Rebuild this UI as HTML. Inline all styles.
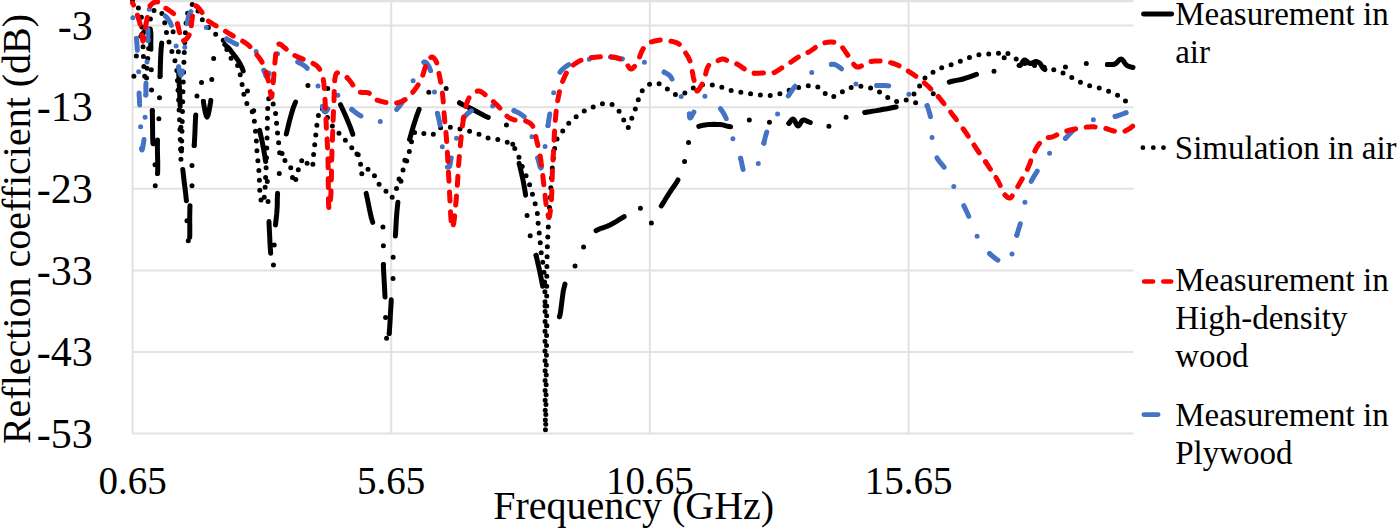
<!DOCTYPE html>
<html><head><meta charset="utf-8"><style>
html,body{margin:0;padding:0;background:#fff;}
body{width:1400px;height:530px;overflow:hidden;}
svg{display:block;}
text{font-family:"Liberation Serif",serif;fill:#000;}
.tick{font-size:39px;}
.ytick{font-size:42px;}
.leg{font-size:33px;}
.title{font-size:40px;}
</style></head><body>
<svg width="1400" height="530" viewBox="0 0 1400 530">
<rect width="1400" height="530" fill="#fff"/>
<g stroke="#e2e2e2" stroke-width="2">
<line x1="132.5" y1="25.6" x2="1133.5" y2="25.6"/>
<line x1="132.5" y1="107.2" x2="1133.5" y2="107.2"/>
<line x1="132.5" y1="188.8" x2="1133.5" y2="188.8"/>
<line x1="132.5" y1="270.4" x2="1133.5" y2="270.4"/>
<line x1="132.5" y1="352.0" x2="1133.5" y2="352.0"/>
<line x1="132.5" y1="433.6" x2="1133.5" y2="433.6"/>
<line x1="132.5" y1="0" x2="132.5" y2="433.6"/>
<line x1="391.2" y1="0" x2="391.2" y2="433.6"/>
<line x1="649.9" y1="0" x2="649.9" y2="433.6"/>
<line x1="908.6" y1="0" x2="908.6" y2="433.6"/>
<line x1="132.5" y1="1" x2="1133.5" y2="1" stroke-width="2.4"/>
</g>
<g fill="none" stroke-width="5.0" stroke-linejoin="round" stroke-linecap="round">
<path d="M132.5 0.0L133.9 1.8L135.3 3.6L136.7 5.3L138.0 7.1L139.0 9.0L139.7 10.7L140.3 12.5L140.8 14.3L141.2 16.1L141.5 18.0L141.8 20.3L141.9 22.6L141.9 25.0L141.9 27.5L142.0 30.0L142.2 32.9L142.4 35.9L142.6 38.9L142.8 42.0L143.0 45.0L143.1 48.0L143.2 51.0L143.3 54.0L143.4 57.0L143.5 60.0L143.6 63.1L143.8 66.3L144.0 69.4L144.2 72.4L144.5 75.0L144.8 76.8L145.1 78.7L145.4 80.4L145.7 81.5L146.0 82.0L146.3 81.1L146.5 79.0L146.7 76.0L146.8 72.9L147.0 70.0L147.2 67.1L147.4 64.1L147.6 61.1L147.8 58.0L148.0 55.0L148.3 52.0L148.6 49.0L148.9 46.0L149.2 43.0L149.5 40.0L149.7 37.0L150.0 33.9L150.2 30.8L150.3 27.9L150.5 25.0L150.5 22.6L150.4 20.2L150.4 17.9L150.5 15.8L151.0 14.0L151.6 12.9L152.3 11.9L153.2 11.1L154.1 10.4L155.0 10.0L156.0 9.8L157.0 9.7L158.1 9.7L159.1 10.0L160.0 10.5L161.1 11.7L161.9 13.4L162.7 15.5L163.3 17.8L164.0 20.0L164.7 22.7L165.3 25.7L165.8 28.8L166.3 31.9L167.0 35.0L167.9 38.4L168.9 41.8L169.9 45.3L171.0 48.7L172.0 52.0L172.9 54.6L173.7 57.1L174.6 59.6L175.3 62.1L176.0 65.0L176.7 69.4L177.1 74.1L177.4 79.2L177.7 84.5L178.0 90.0L178.5 97.5L178.9 105.6L179.3 114.0L179.7 122.2L180.0 130.0L180.2 137.2L180.4 145.2L180.6 152.5L180.8 157.9L181.0 160.0L181.2 157.9L181.4 152.5L181.6 145.2L181.8 137.2L182.0 130.0L182.2 122.3L182.4 114.1L182.6 105.9L182.8 97.7L183.0 90.0L183.2 83.7L183.4 77.7L183.6 71.8L183.8 65.9L184.0 60.0L184.2 54.1L184.5 48.1L184.8 42.1L185.1 36.4L185.5 31.0L185.8 26.8L186.1 22.7L186.5 18.8L187.1 15.2L188.0 12.0L188.9 9.8L189.9 7.7L191.1 5.8L192.3 4.5L193.5 4.0L195.2 5.3L197.0 8.6L198.9 12.9L200.9 17.3L203.0 21.0L205.1 23.7L207.3 26.3L209.5 28.7L211.8 31.0L214.0 33.0L215.8 34.3L217.5 35.3L219.3 36.3L221.0 37.5L222.5 39.0L224.3 42.0L225.7 45.8L227.0 49.9L228.4 53.8L230.0 57.0L231.4 58.6L232.8 59.9L234.3 61.0L235.8 62.3L237.0 64.0L238.4 67.3L239.5 71.2L240.3 75.5L241.1 79.9L242.0 84.0L242.8 87.8L243.4 91.6L244.1 95.4L244.9 98.9L246.0 102.0L247.1 104.0L248.4 105.7L249.7 107.2L250.9 108.9L252.0 111.0L253.1 114.6L254.0 118.7L254.6 123.2L255.1 127.7L255.6 132.0L256.0 136.0L256.3 140.0L256.5 144.0L256.7 148.0L257.0 152.0L257.4 155.9L257.8 159.8L258.2 163.8L258.6 167.8L259.0 172.0L259.3 177.8L259.6 184.2L259.8 190.7L260.3 196.2L261.0 200.0L261.4 200.9L261.8 201.8L262.2 202.5L262.6 202.9L263.0 203.0L263.9 200.4L264.6 194.3L265.2 186.1L265.6 177.5L266.0 170.0L266.3 163.9L266.5 158.0L266.7 152.1L266.8 146.1L267.0 140.0L267.2 132.8L267.3 125.0L267.4 117.3L267.6 110.5L268.0 105.0L268.2 102.8L268.4 100.6L268.7 98.8L269.0 97.5L269.5 97.0L270.4 97.8L271.5 99.9L272.7 102.7L273.9 105.7L274.7 108.3L275.1 110.1L275.4 112.0L275.6 113.7L275.7 115.6L275.9 117.4L276.1 119.4L276.4 121.4L276.6 123.5L276.8 125.6L277.0 127.6L277.2 129.6L277.4 131.7L277.6 133.7L277.8 135.8L278.0 137.8L278.2 139.9L278.5 141.9L278.8 144.0L279.0 146.0L279.3 148.0L279.5 149.7L279.5 151.4L279.7 153.1L279.9 154.6L280.4 156.0L281.1 157.1L281.9 158.0L282.9 158.8L283.9 159.6L284.9 160.4L285.8 161.1L286.8 161.7L287.8 162.2L288.6 162.9L289.4 163.8L290.1 165.3L290.6 167.0L291.0 169.0L291.3 171.0L291.7 172.9L292.1 175.2L292.6 177.9L293.0 180.4L293.5 182.2L294.0 183.0L294.6 182.4L295.3 180.7L296.1 178.5L296.8 176.1L297.4 174.0L297.9 172.2L298.2 170.3L298.6 168.5L299.0 166.7L299.6 165.0L300.4 163.3L301.3 161.4L302.3 159.7L303.3 158.5L304.2 158.0L305.1 158.7L306.0 160.4L306.8 162.6L307.7 164.6L308.7 166.0L309.4 166.5L310.1 166.9L310.8 167.2L311.5 167.3L312.0 167.2L312.6 166.2L312.9 164.5L313.0 162.4L313.0 160.1L313.2 158.0L313.4 156.0L313.7 154.0L313.9 152.0L314.2 150.0L314.4 148.0L314.6 146.0L314.8 143.9L315.1 141.9L315.3 139.8L315.5 137.8L315.7 135.8L315.9 133.7L316.1 131.6L316.4 129.6L316.6 127.6L316.8 125.8L317.0 123.9L317.2 122.1L317.5 120.3L317.8 118.5L318.3 116.1L318.8 113.4L319.4 110.8L320.2 108.9L321.0 108.0L321.9 108.4L322.9 109.6L323.9 111.4L325.0 113.3L326.0 115.0L327.0 116.7L328.0 118.5L328.9 120.4L329.9 122.2L331.0 124.0L332.1 125.7L333.3 127.5L334.5 129.2L335.7 130.7L337.0 132.0L338.0 132.7L339.0 133.3L340.1 133.7L341.1 134.3L342.0 135.0L343.1 136.3L344.1 138.0L345.0 139.7L346.0 141.5L347.0 143.0L348.0 144.1L348.9 145.2L350.0 146.1L351.0 147.1L352.0 148.0L353.0 148.8L354.0 149.4L355.1 150.1L356.1 150.9L357.0 152.0L358.2 154.7L359.1 158.3L359.9 162.1L361.0 165.6L362.5 168.0L364.0 168.8L365.8 169.0L367.6 169.1L369.4 169.3L371.0 170.0L372.7 171.9L374.0 174.6L375.3 177.6L376.6 180.5L378.0 183.0L379.3 184.6L380.8 186.0L382.2 187.3L383.6 188.6L385.0 190.0L386.3 191.8L387.5 193.9L388.7 195.9L389.9 197.4L391.0 198.0L392.1 197.4L393.1 196.1L394.2 194.2L395.1 192.0L396.0 190.0L396.9 187.4L397.7 184.6L398.4 181.6L399.1 178.7L400.0 176.0L400.9 173.9L401.9 172.0L403.0 170.1L404.0 168.2L405.0 166.0L406.1 162.9L407.1 159.6L408.1 156.0L409.0 152.5L410.0 149.0L410.9 145.2L411.6 141.1L412.5 137.2L413.5 133.9L415.0 132.0L416.2 131.6L417.5 131.7L419.0 132.1L420.5 132.6L422.0 133.0L423.9 133.5L426.0 134.2L428.1 134.8L430.1 135.1L432.0 135.0L433.7 134.1L435.3 132.6L436.8 130.8L438.3 129.2L440.0 128.0L441.7 127.4L443.4 127.1L445.2 126.9L447.0 126.9L449.0 127.0L451.8 127.3L454.8 127.8L457.9 128.5L461.1 129.3L464.0 130.0L466.5 130.6L468.9 131.1L471.3 131.7L473.6 132.3L476.0 133.0L478.4 133.9L480.8 135.0L483.2 136.1L485.6 137.2L488.0 138.0L490.4 138.5L492.8 138.9L495.2 139.1L497.6 139.5L500.0 140.0L502.5 140.7L505.1 141.5L507.6 142.4L510.0 143.6L512.0 145.0L513.6 146.7L514.9 148.6L516.0 150.7L517.0 152.9L518.0 155.0L518.9 157.1L519.7 159.2L520.4 161.4L521.1 163.6L522.0 166.0L523.3 169.2L524.7 172.5L526.2 176.0L527.7 179.5L529.0 183.0L530.1 186.4L531.2 190.0L532.2 193.4L533.1 196.8L534.0 200.0L534.7 202.3L535.4 204.6L536.0 206.7L536.5 208.8L537.0 211.0L537.3 213.1L537.5 215.3L537.7 217.4L537.8 219.6L538.0 222.0L538.4 225.4L538.8 229.1L539.2 232.9L539.6 236.6L540.0 240.0L540.2 242.3L540.4 244.4L540.6 246.5L540.7 248.6L541.0 251.0L541.5 254.7L542.2 258.8L542.9 263.1L543.5 267.5L544.0 272.0L544.4 277.2L544.6 282.5L544.8 288.0L544.9 293.8L545.0 300.0L545.1 308.9L545.1 318.4L545.0 328.4L545.0 339.0L545.0 350.0L545.1 367.7L545.1 389.2L545.2 410.0L545.4 425.8L545.5 432.0L545.7 426.2L545.9 411.2L546.1 390.9L546.3 369.3L546.5 350.0L546.6 331.4L546.7 311.8L546.7 292.4L546.8 274.7L547.0 260.0L547.2 253.6L547.3 248.2L547.5 243.2L547.7 238.3L548.0 233.0L548.3 226.7L548.7 220.3L549.1 213.7L549.5 207.0L550.0 200.0L550.6 191.3L551.2 181.9L551.9 172.4L552.7 163.6L553.6 156.0L554.2 151.9L554.7 148.2L555.3 144.8L556.0 141.7L557.0 139.0L557.9 137.3L558.8 135.9L559.9 134.6L561.0 133.3L562.0 132.0L563.0 130.6L563.9 129.2L564.9 127.7L565.9 126.3L567.0 125.0L568.3 123.6L569.6 122.3L571.0 121.0L572.5 119.8L574.0 118.5L575.6 117.1L577.3 115.8L579.0 114.4L580.7 113.1L582.5 112.0L584.2 111.1L585.8 110.2L587.5 109.5L589.2 108.8L591.0 108.0L592.9 107.1L594.9 106.2L596.9 105.3L599.0 104.5L601.0 104.0L603.0 103.7L605.1 103.4L607.2 103.4L609.2 103.5L611.0 104.0L612.6 104.8L614.1 105.9L615.5 107.2L616.8 108.6L618.0 110.0L619.2 111.5L620.2 113.2L621.1 114.9L622.1 116.7L623.0 118.5L624.0 120.7L624.9 123.2L625.8 125.5L626.7 127.3L627.6 128.0L628.5 127.3L629.3 125.5L630.1 123.2L630.9 120.7L631.7 118.5L632.4 116.8L633.0 115.2L633.6 113.6L634.3 111.9L635.0 110.0L636.2 106.5L637.4 102.4L638.8 98.1L640.3 94.2L642.0 91.0L643.3 89.3L644.6 87.8L646.0 86.5L647.5 85.4L649.0 84.5L650.5 83.8L652.1 83.3L653.7 83.0L655.4 82.9L657.0 83.0L658.8 83.5L660.7 84.5L662.6 85.6L664.3 86.8L666.0 88.0L667.3 89.0L668.4 90.1L669.6 91.2L670.7 92.2L672.0 93.0L673.5 93.7L675.0 94.3L676.7 94.8L678.3 95.0L680.0 95.0L682.0 94.5L684.0 93.6L686.1 92.4L688.1 91.1L690.0 90.0L691.5 89.1L692.8 88.3L694.1 87.4L695.5 86.6L697.0 86.0L698.8 85.5L700.8 85.0L702.9 84.7L704.9 84.6L707.0 84.5L709.2 84.6L711.4 84.8L713.6 85.1L715.8 85.5L718.0 86.0L720.2 86.7L722.3 87.5L724.4 88.4L726.7 89.2L729.0 90.0L732.0 90.7L735.1 91.4L738.4 92.0L741.7 92.5L745.0 93.0L748.4 93.5L751.9 94.0L755.3 94.4L758.7 94.8L762.0 95.0L764.7 95.2L767.4 95.3L769.9 95.4L772.5 95.3L775.0 95.0L777.5 94.4L779.9 93.7L782.3 92.7L784.7 91.8L787.0 91.0L789.1 90.3L791.1 89.7L793.1 89.1L795.0 88.5L797.0 88.0L798.8 87.5L800.6 87.0L802.4 86.6L804.2 86.3L806.0 86.0L808.0 85.8L810.1 85.6L812.2 85.5L814.2 85.6L816.0 86.0L817.4 86.7L818.7 87.6L819.8 88.6L821.0 89.7L822.3 90.8L823.8 92.2L825.4 93.7L827.0 95.2L828.6 96.5L830.3 97.1L832.0 97.1L833.7 96.6L835.5 95.8L837.2 94.9L838.9 94.0L840.6 93.1L842.2 92.0L843.8 90.9L845.5 89.9L847.2 89.0L849.1 88.2L851.0 87.5L853.0 86.9L855.0 86.5L857.0 86.2L859.0 86.1L860.9 86.2L862.9 86.4L864.9 86.6L866.8 87.0L868.7 87.4L870.6 87.9L872.5 88.5L874.4 89.2L876.2 90.0L877.9 90.9L879.6 92.0L881.3 93.1L882.9 94.2L884.6 95.3L886.3 96.4L888.0 97.6L889.7 98.8L891.4 99.8L893.2 100.6L895.0 101.1L897.0 101.5L898.9 101.6L900.8 101.6L902.7 101.3L904.5 100.7L906.3 99.9L908.0 98.9L909.7 97.7L911.3 96.5L912.8 95.2L914.2 93.8L915.6 92.4L916.8 90.8L918.0 89.2L919.0 87.5L919.8 85.6L920.6 83.7L921.5 81.8L922.6 80.2L923.9 78.8L925.4 77.6L927.0 76.4L928.6 75.3L930.2 74.2L931.8 73.1L933.4 71.9L935.1 70.8L936.8 69.8L938.5 68.9L940.3 68.1L942.2 67.5L944.1 66.9L946.0 66.3L947.9 65.7L949.7 65.1L951.5 64.5L953.4 63.9L955.2 63.3L957.0 62.6L958.9 61.8L960.8 61.0L962.6 60.2L964.5 59.4L966.4 58.6L968.2 57.9L970.1 57.2L971.9 56.5L973.8 55.9L975.7 55.4L977.7 55.0L979.7 54.6L981.7 54.4L983.7 54.2L985.7 54.0L987.6 53.9L989.6 54.0L991.5 54.1L993.5 54.1L995.4 54.0L997.3 53.7L999.3 53.1L1001.2 52.6L1003.1 52.2L1005.0 52.3L1007.0 53.0L1009.0 54.1L1011.0 55.5L1013.0 57.0L1015.0 58.3L1017.1 59.5L1019.3 60.8L1021.5 62.0L1023.7 63.1L1026.0 64.0L1028.3 64.6L1030.7 65.0L1033.1 65.3L1035.5 65.6L1038.0 66.0L1040.7 66.5L1043.4 67.1L1046.2 67.7L1048.9 68.3L1051.5 69.0L1053.7 69.6L1055.8 70.3L1057.9 71.0L1060.0 71.8L1062.0 72.6L1064.0 73.5L1066.0 74.5L1067.9 75.5L1069.9 76.6L1072.0 77.7L1074.6 79.1L1077.2 80.5L1080.0 82.0L1082.7 83.3L1085.5 84.5L1088.2 85.4L1091.0 86.1L1093.7 86.7L1096.4 87.3L1099.0 88.0L1101.1 88.6L1103.1 89.2L1105.1 89.9L1107.0 90.5L1109.0 91.3L1111.2 92.2L1113.3 93.2L1115.5 94.2L1117.6 95.3L1119.5 96.4L1120.9 97.4L1122.3 98.4L1123.5 99.4L1124.8 100.5L1126.0 101.5L1127.2 102.5L1128.4 103.5L1129.6 104.6L1130.8 105.6L1132.0 106.6" stroke="#000000" stroke-dasharray="0 9.86"/>
<g stroke="#000000"><path d="M132.5 88.0L132.7 86.8L132.8 85.6L133.0 84.4L133.1 83.0L133.3 81.5L133.7 78.2L134.1 74.3L134.5 70.1L135.0 65.9L135.5 62.0L135.9 58.8L136.4 55.7L136.9 52.7L137.4 49.8L138.0 47.0L138.5 44.6L139.1 42.2L139.6 39.9L140.3 37.8L141.0 36.0L141.5 35.0L142.1 34.2L142.7 33.4L143.4 32.7L144.0 32.0L144.6 31.3L145.2 30.5L145.8 29.8L146.4 29.3L147.0 29.0L147.6 28.9L148.3 29.0L148.9 29.2L149.5 29.5L150.0 30.0L150.7 31.8L150.9 34.6L150.9 37.9L150.8 41.5L150.8 45.0L150.9 49.6L151.1 54.7L151.1 59.9L151.2 65.1L151.3 70.0L151.3 74.0L151.4 77.8L151.4 81.5L151.4 85.2L151.5 89.0L151.6 92.7L151.8 96.3L152.0 99.9L152.1 103.8L152.3 108.0L152.3 110.5" stroke-dasharray="32.3 20.4 0 20.4 0 20.4" stroke-dashoffset="40.90"/><path d="M152.3 110.5L152.4 114.8L152.5 122.5L152.6 130.5L152.7 138.2L153.0 145.0L153.3 149.2L153.8 152.9L154.2 156.5L154.7 160.1L155.0 164.0L155.2 169.8L155.2 176.6L155.2 183.1L155.3 188.0L155.5 190.0L155.8 189.1L156.3 186.8L156.7 183.4L157.2 179.7L157.5 176.0L157.6 173.5" stroke-dasharray="33.27 21.01 0.00 21.01 0.00 21.01"/><path d="M157.6 173.5L157.7 169.6L157.7 162.0L157.5 154.0L157.4 146.1L157.5 139.0L157.7 134.2L158.1 129.7L158.4 125.4L158.7 121.2L159.0 117.0L159.2 113.1L159.3 109.3L159.3 105.5L159.4 101.8L159.5 98.0L159.6 94.3L159.7 90.7L159.8 87.0L159.9 83.2L160.0 79.0L160.1 76.5" stroke-dasharray="33.53 21.18 0.00 21.18 0.00 21.18"/><path d="M160.1 76.5L160.2 72.2L160.4 64.3L160.7 56.3L161.1 48.9L161.7 43.0L162.0 40.5L162.3 38.2L162.6 36.2L163.2 34.5L164.0 33.0L165.0 32.0L166.2 31.1L167.5 30.4L168.8 30.0L170.0 30.0L171.3 30.4L172.6 31.3L173.8 32.5L175.0 34.1L176.0 36.0L177.6 42.1L178.3 50.4L178.6 60.2L178.7 70.3L179.0 80.0L179.5 89.9L179.9 100.1L180.3 110.4L180.6 120.4L181.0 130.0L181.3 137.8L181.5 145.3L181.8 152.6L182.1 159.8L182.6 167.0L182.8 169.5" stroke-dasharray="33.42 21.11 0.00 21.11 0.00 21.11"/><path d="M182.8 169.5L183.3 174.0L184.1 181.1L185.0 188.1L185.8 194.7L186.4 201.0L186.6 205.5L186.8 209.8L186.8 213.9L186.9 217.9L187.0 222.0L187.2 226.0L187.5 230.1L187.8 234.0L188.0 237.7L188.3 241.0L188.4 243.1L188.6 245.2L188.7 247.1L188.9 248.5L189.0 249.0L189.1 248.4L189.3 247.0L189.4 244.9L189.6 242.5L189.7 240.0L189.7 237.5" stroke-dasharray="31.56 19.93 0.00 19.93 0.00 19.93"/><path d="M189.7 237.5L189.8 234.3L189.8 227.1L189.7 219.3L189.8 211.7L190.0 205.0L190.3 200.8L190.8 197.0L191.3 193.4L191.7 189.8L192.0 186.0L192.1 181.8L192.0 177.6L191.9 173.3L191.9 169.1L192.0 165.0L192.3 161.6L192.7 158.4L193.1 155.2L193.6 151.8L194.0 148.0L194.2 145.5" stroke-dasharray="31.86 20.13 0.00 20.13 0.00 20.13"/><path d="M194.2 145.5L194.5 141.2L194.9 133.3L195.2 125.0L195.6 117.0L196.0 110.0L196.3 105.7L196.5 101.7L196.8 97.9L197.1 94.4L197.5 91.0L197.9 88.3L198.4 85.4L198.9 82.7L199.4 80.8L200.0 80.0L200.4 80.2L200.8 80.9L201.3 81.8L201.7 82.9L202.0 84.0L202.4 86.3L202.5 89.2L202.6 92.4L202.7 95.8L203.0 99.0L203.4 101.5" stroke-dasharray="30.45 19.23 0.00 19.23 0.00 19.23"/><path d="M203.4 101.5L203.6 103.1L204.4 107.8L205.3 112.3L206.2 115.7L207.0 117.0L207.9 115.7L208.8 112.4L209.6 108.0L210.4 103.2L211.0 99.0L211.3 95.3L211.5 91.7L211.5 88.0L211.6 84.3L211.7 80.6L211.9 76.8L212.0 73.0L212.2 69.2L212.5 65.5L213.0 62.0L213.6 58.9L214.2 55.8L214.9 52.8L215.9 50.2L217.0 48.0L218.0 46.7L219.0 45.5L220.2 44.5L221.4 43.9L222.5 43.6L223.6 43.8L224.7 44.5L224.8 44.5" stroke-dasharray="33.20 20.97 0.00 20.97 0.00 20.97"/><path d="M224.8 44.5L225.8 45.4L226.9 46.5L228.0 47.5L229.3 48.8L230.5 50.3L231.7 51.9L232.9 53.5L234.0 55.0L235.1 56.4L236.1 57.7L237.1 59.1L238.1 60.5L239.0 62.0L240.0 63.7L240.9 65.5L241.8 67.3L242.6 69.2L243.3 71.3L244.0 74.0L244.5 76.8L244.9 79.8L245.4 82.9L246.0 86.0L247.0 89.6L248.2 93.4L249.4 97.2L250.7 101.0L252.0 105.0L253.4 109.4L254.8 113.8L256.3 118.3L257.7 123.0L259.0 128.0L259.6 130.4" stroke-dasharray="32.58 20.58 0.00 20.58 0.00 20.58"/><path d="M259.6 130.4L260.6 134.7L262.2 141.8L263.6 149.2L264.9 156.6L266.0 164.0L266.7 171.3L267.2 178.8L267.5 186.2L267.7 193.4L268.0 200.0L268.2 204.7L268.4 208.9L268.6 213.1L268.8 217.4L269.0 222.0L269.3 228.8L269.7 236.3L270.0 243.9L270.5 251.0L271.0 257.0L271.4 260.2L271.8 263.4L272.2 266.2L272.7 268.2L273.0 269.0L273.3 267.6L273.5 264.1L273.7 259.4L273.8 254.4L274.0 250.0L274.2 246.0L274.4 242.0L274.5 238.0L274.7 234.0L275.0 230.0L275.4 226.0L275.8 221.9L276.3 217.9L276.7 213.9L277.0 210.0L277.2 206.6L277.3 203.4L277.3 200.1L277.4 196.7L277.6 193.0L278.1 187.0L278.6 180.3L279.3 173.3L280.1 166.4L281.0 160.0L281.8 155.1L282.6 150.5L283.5 146.0L284.5 141.3L285.7 136.4L286.3 134.0" stroke-dasharray="31.72 20.04 0.00 20.04 0.00 20.04"/><path d="M286.3 134.0L287.4 129.5L289.2 121.9L291.3 114.3L293.5 107.1L296.0 101.0L297.9 97.3L299.8 93.9L301.9 90.9L304.1 88.4L306.4 86.4L308.2 85.4L310.1 84.7L312.1 84.2L314.0 84.0L316.0 84.0L318.0 84.2L320.1 84.8L322.1 85.5L324.1 86.4L326.0 87.4L328.0 88.6L329.9 90.1L331.8 91.7L333.5 93.3L335.0 95.0L336.1 96.4L336.9 97.7L337.7 99.1L338.5 100.6L339.4 102.5L340.5 104.7" stroke-dasharray="33.26 21.01 0.00 21.01 0.00 21.01"/><path d="M340.5 104.7L341.8 107.5L344.7 113.8L347.7 120.8L350.5 127.6L352.6 133.6L353.6 137.1L354.3 140.4L354.8 143.5L355.3 146.7L356.0 150.0L356.9 153.9L357.9 157.8L359.0 161.9L360.0 165.9L361.0 170.0L361.9 174.1L362.8 178.1L363.7 182.2L364.6 186.4L365.7 191.0L366.2 193.4" stroke-dasharray="32.03 20.23 0.00 20.23 0.00 20.23"/><path d="M366.2 193.4L367.3 198.6L369.1 207.6L371.0 216.5L373.0 223.4L375.0 226.5L375.8 226.4L376.6 225.7L377.4 224.7L378.2 223.7L379.0 223.0L379.6 222.6L380.2 222.2L380.7 221.8L381.2 221.6L381.7 221.7L382.6 223.6L383.0 227.5L383.2 232.5L383.2 237.8L383.3 242.5L383.4 246.3L383.4 250.1L383.3 253.8L383.3 257.7L383.3 262.0L383.4 264.5" stroke-dasharray="29.72 18.77 0.00 18.77 0.00 18.77"/><path d="M383.4 264.5L383.5 268.5L383.9 275.8L384.3 283.3L384.7 290.5L385.0 297.0L385.1 301.2L385.2 305.0L385.3 308.6L385.4 312.2L385.5 316.0L385.7 320.3L385.8 324.7L386.0 329.2L386.3 333.3L386.5 337.0L386.7 339.3L386.9 341.7L387.1 343.9L387.3 345.4L387.5 346.0L387.8 345.4L388.1 343.8L388.4 341.4L388.7 338.7L389.0 336.0L389.2 333.5" stroke-dasharray="32.58 20.57 0.00 20.57 0.00 20.57"/><path d="M389.2 333.5L389.5 329.9L390.0 322.3L390.4 314.1L390.9 306.1L391.3 299.0L391.7 294.6L392.1 290.6L392.4 286.7L392.8 282.9L393.0 279.0L393.1 275.0L393.0 270.9L392.9 266.9L392.9 262.9L393.0 259.0L393.3 255.4L393.7 252.0L394.1 248.6L394.6 245.0L395.0 241.0L395.5 234.5L395.9 227.4L396.3 219.9L396.9 212.0L397.7 204.0L399.0 194.0L400.6 183.5L402.4 172.7L404.4 162.1L406.6 152.0L408.7 143.2L409.7 139.4" stroke-dasharray="33.78 21.34 0.00 21.34 0.00 21.34"/><path d="M409.7 139.4L411.0 134.3L413.5 125.8L416.0 117.9L418.5 111.0L420.1 106.9L421.5 103.2L423.0 99.8L424.8 96.7L427.0 94.0L429.6 91.6L432.7 89.3L436.0 87.4L439.1 86.2L442.0 86.0L444.3 86.8L446.4 88.6L448.4 90.7L450.3 93.0L452.0 95.0L453.2 96.4L454.2 97.7L455.1 99.0L456.2 100.3L457.5 101.5L459.6 102.9" stroke-dasharray="31.46 19.87 0.00 19.87 0.00 19.87"/><path d="M459.6 102.9L461.9 104.2L464.5 105.4L467.3 106.7L470.0 108.0L473.4 109.8L477.0 111.8L480.8 113.8L484.5 115.7L488.2 117.4L491.7 118.5L495.4 119.3L499.0 120.1L502.3 121.2L505.0 123.0L507.1 125.9L508.6 129.6L509.8 133.7L510.8 138.0L512.0 142.0L513.3 145.7L514.7 149.3L516.0 153.0L517.3 156.8L518.5 161.0L519.1 163.4" stroke-dasharray="32.13 20.29 0.00 20.29 0.00 20.29"/><path d="M519.1 163.4L520.1 167.3L521.7 174.3L523.3 181.5L524.6 188.6L525.6 195.0L526.1 199.3L526.3 203.4L526.5 207.2L526.7 211.1L527.0 215.0L527.5 219.0L528.0 223.1L528.5 227.1L529.2 231.1L530.0 235.0L530.9 238.6L532.0 241.9L533.2 245.3L534.3 248.9L535.5 253.0L536.1 255.4" stroke-dasharray="32.43 20.48 0.00 20.48 0.00 20.48"/><path d="M536.1 255.4L537.2 260.2L539.1 268.4L540.9 277.0L542.6 285.8L544.0 294.0L544.8 301.9L545.3 310.5L545.7 318.6L546.5 324.9L548.0 328.0L548.9 328.2L549.9 327.9L551.0 327.4L552.0 326.7L552.8 326.0L553.4 325.3L553.8 324.5L554.1 323.6L554.5 322.8L555.0 322.0L555.7 321.4L556.4 321.0L557.2 320.5L558.0 319.9L558.7 319.0L559.5 316.6" stroke-dasharray="31.51 19.90 0.00 19.90 0.00 19.90"/><path d="M559.5 316.6L560.2 314.3L561.2 307.2L562.2 299.0L563.3 290.8L565.0 284.0L566.7 279.9L568.8 276.3L570.9 272.8L573.1 269.5L575.0 266.0L576.6 262.5L578.1 259.0L579.5 255.5L581.0 252.0L582.7 248.6L584.6 245.0L586.7 241.4L588.9 237.9L591.3 234.7L594.0 232.0L596.1 230.6" stroke-dasharray="32.99 20.84 0.00 20.84 0.00 20.84"/><path d="M596.1 230.6L596.9 230.1L600.1 228.7L603.4 227.6L606.8 226.4L610.0 225.0L613.1 223.3L616.1 221.6L619.1 219.7L622.1 217.8L625.0 216.0L627.9 213.9L630.7 211.3L633.6 209.0L636.3 207.3L638.8 207.0L641.3 209.1L643.6 213.3L645.8 218.1L647.9 222.1L650.0 223.7L652.0 222.6L654.1 219.7L656.0 215.8L658.0 211.7L660.0 208.0L661.3 205.9" stroke-dasharray="31.54 19.92 0.00 19.92 0.00 19.92"/><path d="M661.3 205.9L662.0 204.8L664.0 201.6L666.0 198.3L668.0 195.1L670.0 192.0L671.9 189.2L673.8 186.5L675.7 183.8L677.4 181.0L679.0 178.0L680.5 174.6L681.8 171.1L682.9 167.4L684.0 163.7L685.0 160.0L685.9 156.2L686.5 152.3L687.1 148.3L687.9 144.5L689.0 141.0L690.3 137.9L691.7 134.8L693.4 131.9L695.1 129.4L697.0 127.5L698.4 126.6L698.8 126.4" stroke-dasharray="30.90 19.52 0.00 19.52 0.00 19.52"/><path d="M698.8 126.4L699.9 126.0L701.5 125.6L703.2 125.3L705.0 125.0L707.7 124.6L710.7 124.4L713.8 124.3L717.0 124.4L720.0 124.5L722.7 124.9L725.3 125.6L727.8 126.3L730.4 126.8L733.0 126.8L735.9 125.9L738.8 124.4L741.8 122.6L744.8 121.0L748.0 120.0L751.9 119.7L756.1 120.0L760.3 120.7L764.4 121.4L768.0 122.0L770.2 122.4L772.3 122.8L774.2 123.2L776.1 123.7L778.0 124.0L779.9 124.4L781.8 124.8L783.6 125.2L785.4 125.3L787.0 125.0L788.4 124.0L788.9 123.4" stroke-dasharray="32.21 20.34 0.00 20.34 0.00 20.34"/><path d="M788.9 123.4L789.6 122.5L790.8 120.8L791.9 119.5L793.0 119.0L794.1 119.8L795.1 121.5L796.0 123.6L797.0 125.3L798.0 126.0L799.0 125.5L799.9 124.1L800.9 122.4L801.9 120.8L803.0 120.0L804.1 119.9L805.1 120.3L806.3 120.8L807.6 121.4L809.0 122.0L811.8 123.1L815.2 124.5L818.8 125.8L822.5 126.8L826.0 127.0L829.6 126.1L833.2 124.3L836.7 122.0L840.3 119.8L844.0 118.0L847.6 116.7L851.3 115.6L855.1 114.7L858.8 113.8L862.5 113.0L865.0 112.5" stroke-dasharray="30.78 19.44 0.00 19.44 0.00 19.44"/><path d="M865.0 112.5L866.0 112.3L869.5 111.7L873.0 111.1L876.5 110.6L880.0 110.0L883.6 109.3L887.2 108.7L890.8 108.0L894.4 107.3L898.0 106.6L901.5 106.0L904.9 105.4L908.3 104.7L911.7 104.0L915.0 103.0L918.1 101.9L921.1 100.6L924.1 99.3L927.0 97.7L930.0 96.0L933.4 93.6L936.7 90.8L940.1 87.8L943.5 85.1L947.0 83.0L949.3 82.1" stroke-dasharray="31.61 19.96 0.00 19.96 0.00 19.96"/><path d="M949.3 82.1L950.1 81.8L953.3 81.0L956.5 80.4L959.8 79.8L963.0 79.0L966.4 77.9L969.7 76.8L973.1 75.6L976.5 74.4L980.0 73.4L983.7 72.7L987.7 72.2L991.5 71.7L995.1 70.9L998.0 69.4L999.8 67.1L1001.2 64.1L1002.2 60.9L1003.4 58.3L1005.0 57.0L1007.2 57.3L1009.8 58.9L1012.5 61.1L1015.0 63.2L1017.0 64.5L1017.7 64.9L1018.3 65.2L1018.9 65.4L1019.3 65.5" stroke-dasharray="28.29 17.87 0.00 17.87 0.00 17.87"/><path d="M1019.3 65.5L1019.4 65.6L1020.0 65.5L1020.9 64.8L1021.7 63.5L1022.6 61.9L1023.5 60.6L1024.5 60.0L1025.5 60.2L1026.6 61.0L1027.7 62.1L1028.8 63.0L1030.0 63.5L1031.2 63.4L1032.4 62.9L1033.7 62.2L1034.9 61.7L1036.0 61.5L1036.9 61.7L1037.7 62.0L1038.5 62.4L1039.3 62.9L1040.0 63.5L1040.7 64.3L1041.2 65.2L1041.8 66.2L1042.3 67.2L1043.0 68.0L1043.7 68.7L1044.5 69.3L1045.4 69.8L1046.2 70.2L1047.0 70.5L1047.6 70.6L1048.1 70.5L1048.6 70.3L1049.2 70.2L1050.0 70.0L1052.6 69.5L1055.9 68.8L1059.7 68.0L1063.7 67.2L1067.5 66.5L1071.3 65.8L1075.3 65.1L1079.2 64.4L1083.1 63.8L1087.0 63.5L1090.7 63.5L1094.5 63.7L1098.2 64.1L1101.7 64.4L1105.0 64.5L1107.2 64.6L1107.5 64.6" stroke-dasharray="33.49 21.15 0.00 21.15 0.00 21.15"/><path d="M1107.5 64.6L1109.4 64.6L1111.4 64.6L1113.3 64.5L1115.0 64.0L1116.4 63.1L1117.6 61.8L1118.8 60.4L1119.9 59.4L1121.0 59.0L1122.2 59.6L1123.4 60.9L1124.5 62.6L1125.7 64.3L1127.0 65.5L1128.1 66.1L1129.3 66.5L1130.6 66.9L1131.8 67.2L1133.0 67.5" stroke-dasharray="32.3 20.4 0 20.4 0 20.4"/></g>
<g stroke="#4472c4"><path d="M132.5 17.0L132.8 17.6L133.1 18.1L133.4 18.6L133.7 19.2L134.0 20.0L134.5 22.0L134.9 24.5L135.3 27.4L135.7 30.3L136.0 33.0L136.3 35.4L136.5 37.8L136.5 38.6" stroke-dasharray="11.6 21.3 0 21.3" stroke-dashoffset="32.10"/><path d="M136.5 38.6L136.7 40.1L136.8 42.5L137.0 45.0L137.2 47.9L137.4 50.9L137.6 53.9L137.8 57.0L138.0 60.0L138.2 63.0L138.4 66.0L138.5 69.0L138.7 72.0L138.8 75.0L138.9 78.2L138.9 81.4L138.9 84.6L138.9 87.8L139.0 91.0L139.1 93.1" stroke-dasharray="11.69 21.47 0.00 21.47"/><path d="M139.1 93.1L139.1 94.2L139.3 97.3L139.5 100.5L139.6 103.7L139.8 107.0L140.0 110.7L140.1 114.6L140.3 118.4L140.4 122.3L140.6 126.0L140.7 129.4L140.9 132.8L141.0 136.1L141.1 139.2L141.3 142.0L141.4 144.0L141.5 146.2L141.7 148.1L141.7 148.5" stroke-dasharray="11.87 21.79 0.00 21.79"/><path d="M141.7 148.5L141.8 149.5L142.0 150.0L142.2 149.7L142.4 149.1L142.6 148.1L142.8 147.0L143.0 146.0L143.3 144.4L143.6 142.7L143.8 140.8L144.1 138.8L144.3 136.6L144.5 133.1L144.7 129.3L144.8 125.2L145.0 121.0L145.1 117.0L145.3 113.0L145.4 108.9L145.6 104.8L145.7 100.8L145.8 97.0L145.8 94.9" stroke-dasharray="12.18 22.37 0.00 22.37"/><path d="M145.8 94.9L145.9 93.9L145.9 90.9L145.9 88.1L145.9 85.1L146.0 82.0L146.1 78.2L146.3 74.2L146.6 70.1L146.8 66.0L147.0 62.0L147.2 58.1L147.4 54.3L147.7 50.5L147.9 46.7L148.0 43.0L148.0 40.5" stroke-dasharray="11.65 21.39 0.00 21.39"/><path d="M148.0 40.5L148.0 39.7L148.0 36.5L148.0 33.3L147.9 30.1L148.0 27.0L148.1 23.8L148.3 20.6L148.5 17.4L148.7 14.5L149.0 12.0L149.1 10.7L149.2 9.5L149.3 8.4L149.6 7.5L150.0 7.0L150.6 6.9L151.4 7.0L152.3 7.3L153.2 7.7L154.0 8.0L154.8 8.3L155.6 8.7L156.4 9.1L157.2 9.5L158.0 10.0L159.0 10.7L160.0 11.4L161.0 12.3L162.0 13.1L163.0 14.0L164.0 14.9L165.1 15.8" stroke-dasharray="11.06 20.31 0.00 20.31"/><path d="M165.1 15.9L166.1 16.8L167.1 17.9L168.0 19.0L168.9 20.4L169.8 21.8L170.6 23.4L171.3 25.1L172.0 27.0L173.0 30.1L173.8 33.6L174.6 37.4L175.4 41.2L176.0 45.0L176.5 48.8L176.8 52.8L177.1 56.8L177.5 60.5L178.0 64.0L178.5 66.8L178.6 66.9" stroke-dasharray="11.51 21.13 0.00 21.13"/><path d="M178.6 66.9L179.1 69.7L179.8 72.3L180.4 74.3L181.0 75.0L181.4 74.6L181.9 73.4L182.3 71.8L182.6 69.9L183.0 68.0L183.5 64.2L183.9 59.7L184.3 54.7L184.6 49.7L185.0 45.0L185.4 41.0L185.8 37.0L186.1 33.1L186.6 29.4L187.0 26.0L187.3 23.6" stroke-dasharray="12.97 23.81 0.00 23.81"/><path d="M187.3 23.6L187.3 23.5L187.6 21.1L188.0 18.8L188.4 16.8L189.0 15.0L189.5 13.9L190.1 12.9L190.7 12.0L191.3 11.3L192.0 11.0L192.6 11.1L193.2 11.3L193.8 11.8L194.4 12.4L195.0 13.0L195.9 14.1L196.9 15.4L197.9 16.9L198.9 18.5L200.0 20.0L201.4 21.8L202.8 23.6L204.4 25.5L206.1 27.3L208.0 29.0L210.6 30.8L213.6 32.4L216.7 33.9L219.9 35.4L223.0 37.0L226.0 38.6L226.6 39.0" stroke-dasharray="12.71 23.35 0.00 23.35"/><path d="M226.6 39.0L228.9 40.3L231.8 41.9L234.9 43.5L238.0 45.0L241.8 46.3L246.0 47.4L250.2 48.5L254.0 49.9L257.0 52.0L258.9 54.7L260.2 58.0L261.2 61.5L262.0 65.0L263.0 68.0L263.8 70.3L263.9 70.3" stroke-dasharray="11.36 20.85 0.00 20.85"/><path d="M263.9 70.3L264.7 72.7L265.5 74.8L266.2 76.4L267.0 77.0L267.6 76.5L268.2 75.3L268.8 73.7L269.4 71.8L270.0 70.0L270.9 66.9L271.7 63.1L272.7 59.2L274.0 56.0L276.0 54.0L279.2 53.7L283.3 54.8L287.8 56.8L292.2 59.0L296.0 61.0L297.9 61.9" stroke-dasharray="12.05 22.13 0.00 22.13"/><path d="M297.9 61.9L298.5 62.2L300.8 63.5L303.0 64.8L305.0 66.2L307.0 68.0L309.3 70.5L311.5 73.3L313.5 76.3L315.4 79.6L317.0 83.0L318.4 87.2L319.5 92.0L320.3 96.8L321.1 101.3L322.0 105.0L322.4 106.4" stroke-dasharray="11.40 20.92 0.00 20.92"/><path d="M322.4 106.4L322.6 106.9L323.1 108.7L323.7 110.4L324.3 111.5L325.0 112.0L325.9 111.6L326.9 110.4L328.0 108.7L329.0 106.8L330.0 105.0L331.0 102.7L331.8 99.9L332.6 97.2L333.7 95.0L335.0 94.0L337.4 94.8L340.4 97.5L343.7 101.2L347.0 105.0L350.0 108.0L351.8 109.5" stroke-dasharray="10.82 19.87 0.00 19.87"/><path d="M351.8 109.5L352.2 109.8L354.3 111.5L356.4 113.1L358.6 114.6L361.0 116.0L364.3 117.7L367.9 119.5L371.7 121.0L375.5 121.9L379.0 122.0L382.5 120.9L385.9 118.9L389.2 116.3L392.3 113.6L395.0 111.0L396.6 109.4" stroke-dasharray="11.23 20.61 0.00 20.61"/><path d="M396.6 109.4L396.9 109.1L398.6 107.3L400.1 105.3L401.5 103.3L403.0 101.0L404.9 97.8L406.7 94.3L408.4 90.5L410.2 86.7L412.0 83.0L414.0 78.9L416.1 74.5L418.2 70.2L420.2 66.5L422.0 64.0L422.6 63.3L423.2 62.7L423.8 62.3L423.9 62.2" stroke-dasharray="11.74 21.56 0.00 21.56"/><path d="M423.9 62.2L424.4 62.0L425.0 62.0L426.0 62.5L427.1 63.7L428.1 65.3L429.1 67.1L430.0 69.0L431.1 72.3L432.0 76.1L432.7 80.4L433.3 84.8L434.0 89.0L434.7 93.4L435.2 98.0L435.8 102.5L436.4 106.9L437.0 111.0L437.5 113.5" stroke-dasharray="11.78 21.63 0.00 21.63"/><path d="M437.5 113.5L437.6 114.0L438.2 116.7L438.9 119.4L439.5 122.1L440.0 125.0L440.5 128.6L440.9 132.3L441.2 136.2L441.5 140.1L442.0 144.0L442.5 148.7L442.9 154.0L443.5 159.1L444.3 163.4L445.5 166.0L446.2 166.6L446.9 167.0L447.4 167.1" stroke-dasharray="11.89 21.84 0.00 21.84"/><path d="M447.4 167.1L447.7 167.2L448.4 167.2L449.0 167.0L449.6 166.2L450.0 164.8L450.3 163.0L450.6 161.0L451.0 159.0L451.8 155.7L452.8 152.0L453.8 148.0L454.9 143.9L456.0 140.0L457.1 136.1L458.1 132.0L459.2 128.1L460.4 124.3L462.0 121.0L463.2 119.1" stroke-dasharray="11.10 20.39 0.00 20.39"/><path d="M463.2 119.1L463.5 118.6L465.0 116.4L466.7 114.4L468.7 112.6L471.0 111.0L474.7 109.3L479.0 107.9L483.8 106.9L488.5 106.2L493.0 106.0L497.0 106.2L501.0 106.9L504.9 107.8L508.6 108.9L512.0 110.0L514.0 110.7" stroke-dasharray="11.92 21.89 0.00 21.89"/><path d="M514.0 110.7L514.3 110.9L516.4 111.8L518.4 112.7L520.2 113.8L522.0 115.0L523.6 116.2L525.2 117.4L526.6 118.8L527.9 120.3L529.0 122.0L530.0 124.5L530.6 127.4L531.0 130.6L531.4 133.8L532.0 137.0L532.9 140.6L533.9 144.2L534.9 147.9L536.0 151.6L537.0 155.0L537.8 157.9" stroke-dasharray="12.02 22.06 0.00 22.06"/><path d="M537.8 157.9L537.8 158.2L538.7 161.6L539.5 164.8L540.2 167.1L541.0 168.0L541.9 166.5L542.7 162.7L543.5 157.5L544.3 152.0L545.0 147.0L545.7 142.2L546.4 137.2L547.1 132.2L547.7 127.2L548.0 125.6" stroke-dasharray="11.52 21.15 0.00 21.15"/><path d="M548.0 125.6L548.5 122.0L549.4 116.2L550.4 110.2L551.4 104.2L552.5 98.4L553.6 93.0L554.4 88.8L555.2 84.7L556.0 80.8L557.1 77.2L558.7 74.0L560.0 72.2" stroke-dasharray="11.79 21.65 0.00 21.65"/><path d="M560.0 72.2L560.5 71.5L562.5 69.3L564.8 67.3L567.3 65.6L570.0 64.0L573.7 62.5L577.9 61.3L582.4 60.4L586.8 59.7L591.0 59.0L594.5 58.4L598.0 57.8L601.4 57.4L604.7 57.1L608.0 57.0L610.5 57.1" stroke-dasharray="11.64 21.37 0.00 21.37"/><path d="M610.5 57.1L611.0 57.2L613.9 57.5L616.9 58.0L619.9 58.5L623.0 59.0L627.0 59.5L631.3 59.8L635.6 60.3L639.9 61.0L644.0 62.0L647.9 63.4L651.7 65.3L655.5 67.3L658.9 69.2L662.0 71.0L663.9 72.0L664.2 72.2" stroke-dasharray="12.10 22.22 0.00 22.22"/><path d="M664.2 72.2L665.7 73.0L667.3 73.9L668.8 74.9L670.0 76.0L670.8 76.9L671.3 77.8L671.8 78.7L672.4 79.8L673.0 81.0L674.5 83.8L676.3 87.1L678.3 90.8L680.2 94.5L682.0 98.0L683.6 101.0L685.2 103.9L686.7 106.8L688.0 109.6L689.0 112.0L689.3 113.5L689.4 114.1" stroke-dasharray="10.67 19.58 0.00 19.58"/><path d="M689.4 114.1L689.5 115.1L689.5 116.5L689.7 117.5L690.0 118.0L690.6 117.7L691.3 116.7L692.1 115.2L693.0 113.6L694.0 112.0L695.6 108.9L697.4 104.9L699.4 100.8L701.6 97.6L704.0 96.0L706.8 96.4L710.0 98.4L713.3 101.1L716.4 104.2L719.0 107.0L720.4 108.7" stroke-dasharray="11.09 20.36 0.00 20.36"/><path d="M720.4 108.7L720.7 109.0L722.2 111.1L723.5 113.2L724.8 115.5L726.0 118.0L727.5 121.8L728.9 126.0L730.3 130.4L731.6 134.8L733.0 139.0L734.4 142.5L735.8 145.9L737.3 149.3L738.7 152.6L740.0 156.0L740.6 158.3" stroke-dasharray="11.51 21.14 0.00 21.14"/><path d="M740.6 158.3L741.0 159.8L741.9 164.1L742.7 168.1L743.7 171.3L745.0 173.0L745.9 173.1L746.9 172.9L747.9 172.3L748.9 171.6L750.0 171.0L751.4 170.3L752.9 169.5L754.3 168.6L755.7 167.4L757.0 166.0L758.6 162.9L759.9 159.0L760.9 154.6L761.9 150.1L763.0 146.0L763.8 143.2" stroke-dasharray="11.48 21.08 0.00 21.08"/><path d="M763.8 143.2L764.0 142.5L764.8 139.0L765.7 135.5L766.7 132.2L768.0 129.0L769.5 126.1L771.3 123.3L773.2 120.6L775.1 117.9L777.0 115.0L779.0 111.7L780.9 108.2L782.9 104.7L784.9 101.3L787.0 98.0L788.3 95.9" stroke-dasharray="11.50 21.12 0.00 21.12"/><path d="M788.3 95.9L788.9 95.0L790.8 92.1L792.7 89.3L794.8 86.6L797.0 84.0L799.6 81.5L802.4 79.2L805.3 77.0L808.2 75.0L811.0 73.0L813.3 71.4L815.5 69.7L817.8 68.2L819.9 66.9L822.0 66.0L823.5 65.6L824.9 65.3L826.3 65.2L827.7 65.1L829.0 65.0L830.0 64.8L831.0 64.5L831.4 64.4" stroke-dasharray="11.82 21.70 0.00 21.70"/><path d="M831.4 64.4L832.0 64.3L832.9 64.2L834.0 64.3L835.7 64.9L837.6 65.9L839.5 67.3L841.5 68.8L843.4 70.4L845.8 72.9L848.1 76.0L850.5 79.1L853.1 82.0L856.0 84.0L859.3 85.1L862.8 85.5L866.6 85.5L870.3 85.4L874.0 85.5L876.8 85.6" stroke-dasharray="11.46 21.04 0.00 21.04"/><path d="M876.8 85.6L877.4 85.6L880.9 85.5L884.3 85.5L887.7 85.7L891.0 86.2L894.5 87.3L898.0 88.9L901.4 90.7L904.8 92.5L908.0 94.0L910.6 95.1L913.2 96.1L915.7 97.0L918.0 98.0L920.0 99.0L921.3 99.8L922.5 100.5L923.6 101.3L924.6 102.1L925.5 103.0L926.2 103.9L926.7 104.9L927.1 105.7" stroke-dasharray="11.97 21.98 0.00 21.98"/><path d="M927.1 105.7L927.2 105.9L927.6 106.9L928.0 108.0L928.5 109.3L928.9 110.8L929.3 112.3L929.7 113.7L930.0 115.0L930.2 115.8L930.4 116.5L930.6 117.2L930.8 118.0L931.0 119.0L931.2 121.8L931.4 125.2L931.5 129.2L931.6 133.2L932.0 137.0L932.5 140.8L933.1 144.8L933.8 148.7L934.7 152.5L936.0 156.0L937.0 157.8" stroke-dasharray="11.44 21.01 0.00 21.01"/><path d="M937.0 157.8L937.6 159.0L939.7 161.8L941.9 164.4L944.1 167.1L946.0 170.0L947.7 173.2L949.3 176.6L950.9 180.1L952.4 183.6L954.0 187.0L955.8 190.4L957.6 193.9L959.5 197.3L961.3 200.7L963.0 204.0L963.8 205.7" stroke-dasharray="11.81 21.68 0.00 21.68"/><path d="M963.8 205.7L964.5 207.0L965.9 210.0L967.3 213.0L968.6 215.9L970.0 219.0L971.4 222.3L972.7 225.8L974.0 229.2L975.4 232.7L977.0 236.0L978.9 239.4L981.0 242.8L983.2 246.1L985.5 249.2L988.0 252.0L989.6 253.6" stroke-dasharray="11.72 21.53 0.00 21.53"/><path d="M989.6 253.6L990.5 254.5L993.3 256.8L996.1 259.0L998.8 260.8L1001.0 262.0L1001.9 262.4L1002.7 262.8L1003.5 263.1L1004.2 263.2L1005.0 263.0L1006.4 262.1L1007.9 260.5L1009.4 258.5L1010.8 256.3L1012.0 254.0L1013.1 251.2L1013.9 248.0L1014.6 244.7L1015.2 241.3L1016.0 238.0L1016.8 235.2" stroke-dasharray="10.58 19.42 0.00 19.42"/><path d="M1016.8 235.2L1017.0 234.6L1018.0 231.3L1019.0 227.9L1020.1 224.5L1021.0 221.0L1021.9 217.3L1022.6 213.5L1023.4 209.6L1024.1 205.8L1025.0 202.0L1025.9 198.3L1026.7 194.6L1027.7 191.0L1028.7 187.4L1030.0 184.0L1031.2 181.4" stroke-dasharray="11.95 21.95 0.00 21.95"/><path d="M1031.2 181.4L1031.4 181.0L1032.9 178.2L1034.5 175.5L1036.2 172.8L1038.0 170.0L1040.0 166.8L1042.1 163.5L1044.3 160.2L1046.6 157.0L1049.0 154.0L1051.4 151.4L1054.0 149.0L1056.7 146.7L1059.4 144.4L1062.0 142.0L1064.6 139.4L1065.4 138.4" stroke-dasharray="11.85 21.75 0.00 21.75"/><path d="M1065.4 138.4L1067.0 136.7L1069.6 133.9L1072.2 131.3L1075.0 129.0L1078.1 126.8L1081.4 124.8L1084.8 123.0L1088.4 121.3L1092.0 120.0L1096.1 119.0L1100.4 118.5L1104.7 118.1L1109.0 117.7L1113.0 117.0L1115.2 116.4" stroke-dasharray="12.04 22.11 0.00 22.11"/><path d="M1115.2 116.4L1116.3 116.1L1119.6 115.1L1122.7 114.0L1125.6 112.9L1128.0 112.0L1129.2 111.6L1130.2 111.2L1131.1 110.8L1132.0 110.4L1133.0 110.0" stroke-dasharray="11.6 21.3 0 21.3"/></g>
<g stroke="#ff0000"><path d="M132.5 3.0L132.8 3.6L133.1 4.1L133.4 4.7L133.7 5.3L134.0 6.0L134.6 7.3L135.2 8.9L135.8 10.5L136.4 12.3L137.0 14.0L137.4 15.1" stroke-dasharray="9.1 10.7" stroke-dashoffset="6.72"/><path d="M137.4 15.1L137.6 15.9L138.3 17.9L138.9 19.9L139.5 21.9L140.0 24.0L140.5 26.4L140.9 29.0L141.3 31.5L141.7 33.9L141.9 35.4" stroke-dasharray="9.57 11.25"/><path d="M141.9 35.4L142.0 36.0L142.2 37.3L142.4 38.6L142.6 39.8L142.8 40.7L143.0 41.0L143.3 40.4L143.6 39.0L143.9 37.0L144.2 34.9L144.5 33.0L144.8 31.2L145.1 29.5L145.4 27.7L145.4 27.5" stroke-dasharray="8.98 10.56"/><path d="M145.4 27.5L145.7 25.8L146.0 24.0L146.4 22.0L146.8 20.0L147.2 17.9L147.6 15.9L148.0 14.0L148.3 12.3L148.6 10.5L149.0 8.9L149.4 7.3L150.0 6.0L150.2 5.8" stroke-dasharray="10.24 12.03"/><path d="M150.2 5.8L150.7 5.1L151.4 4.3L152.3 3.5L153.1 3.0L154.0 2.5L154.8 2.2L155.6 2.0L156.4 1.8L157.2 1.8L158.0 2.0L159.2 2.6L160.4 3.6L161.6 4.7L162.8 5.9L164.0 7.0L165.2 7.8L165.8 8.3" stroke-dasharray="8.88 10.44"/><path d="M165.8 8.3L166.4 8.6L167.6 9.4L168.8 10.2L170.0 11.0L171.1 11.7L172.2 12.5L173.2 13.2L174.2 14.0L175.0 15.0L175.6 16.2L176.0 17.5L176.3 18.9L176.6 20.4L177.0 22.0L177.5 23.9" stroke-dasharray="9.52 11.20"/><path d="M177.5 23.9L177.6 24.2L178.2 26.7L178.8 29.3L179.4 31.8L180.0 34.0L180.4 35.7L180.7 37.4L181.0 39.0L181.4 40.3L182.0 41.0L182.5 41.1L183.1 41.0L183.8 40.7" stroke-dasharray="9.02 10.61"/><path d="M183.8 40.7L184.4 40.4L185.0 40.0L185.6 39.5L186.3 39.0L186.9 38.4L187.5 37.7L188.0 37.0L188.5 36.3L188.9 35.6L189.3 34.8L189.7 34.0L190.0 33.0L190.5 30.9L190.9 28.3L191.3 25.8" stroke-dasharray="8.05 9.47"/><path d="M191.3 25.8L191.3 25.5L191.6 22.7L192.0 20.0L192.3 17.4L192.7 14.7L193.0 12.0L193.4 9.7L194.0 8.0L194.3 7.4L194.7 6.8L195.1 6.4L195.5 6.1L196.0 6.0" stroke-dasharray="9.63 11.32"/><path d="M196.0 6.0L196.9 6.3L197.9 7.2L198.9 8.4L200.0 9.7L201.0 11.0L202.0 12.5L202.9 14.1L203.7 15.8L204.7 17.4L206.0 19.0L208.0 20.8L210.5 22.5L213.1 24.1L215.7 25.6L218.0 27.0L219.5 27.9L220.9 28.7L222.2 29.4L223.6 30.2L225.0 31.0L226.9 32.1L228.8 33.3L230.8 34.5L232.9 35.8L235.0 37.0L237.4 38.4L240.0 39.7L242.5 41.1L244.9 42.5L247.0 44.0L248.4 45.1L249.6 46.3L250.7 47.5L251.8 48.7L253.0 50.0L254.4 51.7L256.0 53.6L257.4 55.5L258.8 57.3L260.0 59.0L260.7 60.0L261.3 61.0L261.9 61.9L262.4 62.9L263.0 64.0L263.8 65.9L264.7 68.0L265.5 70.2L266.3 72.6L267.0 75.0L267.7 77.9L268.4 81.1L268.9 84.3L269.5 87.3L270.0 90.0L270.3 91.8L270.6 93.7L270.9 95.3L271.2 96.5L271.5 97.0L271.8 96.2L272.1 94.1L272.4 91.2L272.7 88.0L273.0 85.0L273.4 80.8L273.8 76.1L274.2 71.2L274.6 66.4L275.0 62.0L275.3 58.6L275.6 55.2L276.0 52.0L276.4 49.2L277.0 47.0L277.3 46.1L277.7 45.4L278.0 44.7L278.5 44.2L279.0 44.0L280.0 44.2L281.1 44.8L282.4 45.8L283.7 47.0L285.0 48.0L286.3 49.1L287.6 50.3L289.0 51.6L290.4 52.8L292.0 54.0L294.3 55.3L296.9 56.5L299.6 57.7L302.4 58.8L305.0 60.0L307.5 61.1L310.2 62.2L312.7 63.3L315.0 64.6L317.0 66.0L318.3 67.4L319.5 68.9L320.4 70.5L321.3 72.2L322.0 74.0L322.6 75.9L323.1 77.9L323.4 80.0L323.7 82.4L324.0 85.0L324.5 90.7L324.9 97.5L325.3 104.9L325.6 112.5L326.0 120.0L326.4 127.8L326.9 135.6L327.3 143.6L327.7 151.7L328.0 160.0L328.2 171.0L328.3 183.9L328.4 196.2L328.6 205.4L329.0 209.0L329.3 208.5L329.6 207.1L329.9 205.0L330.2 202.6L330.5 200.0L331.0 192.6L331.3 182.9L331.5 171.9L331.7 160.6L332.0 150.0L332.4 139.7L332.8 129.0L333.2 118.5L333.6 108.7L334.0 100.0L334.2 94.8L334.2 89.8L334.4 85.2L334.6 81.2L335.0 78.0L335.3 76.7L335.5 75.4L335.9 74.4L336.3 73.5L336.8 73.0L337.3 72.8L337.9 72.9L338.6 73.0L339.3 73.3L340.0 73.5L341.0 73.8L342.1 74.3L343.2 74.8L344.3 75.3L345.3 76.0L346.3 76.8L347.2 77.7" stroke-dasharray="9.13 10.73"/><path d="M347.2 77.7L347.3 77.8L348.2 78.9L349.1 79.9L350.0 81.0L350.8 82.0L351.6 83.1L352.3 84.2L353.0 85.2L353.8 86.3L354.6 87.4L355.4 88.6L356.2 89.7L357.1 90.6L358.0 91.4L358.9 91.8L359.9 92.1L360.4 92.2" stroke-dasharray="9.21 10.83"/><path d="M360.4 92.2L360.9 92.3L361.9 92.4L363.0 92.5L364.2 92.6L365.4 92.6L366.6 92.6L367.8 92.7L369.0 93.1L370.3 94.0L371.5 95.2L372.6 96.6L373.8 98.0L375.0 99.0L376.0 99.6L377.0 100.0L377.2 100.1" stroke-dasharray="9.05 10.64"/><path d="M377.2 100.1L377.9 100.4L379.0 100.7L380.0 101.0L381.1 101.3L382.3 101.6L383.5 101.9L384.7 102.2L386.0 102.4L387.5 102.7L389.0 102.9L390.6 103.1L392.2 103.3L393.7 103.3L395.0 103.2L396.3 103.0L397.6 102.7L398.8 102.4L400.0 102.0L401.0 101.7L402.0 101.3L402.9 101.0L403.8 100.5L404.7 100.0L405.8 99.3L406.8 98.4L407.9 97.5L408.9 96.6L409.8 95.7L410.5 95.0L411.1 94.3L411.7 93.6L412.3 92.8L413.0 92.0L414.0 90.7L415.0 89.4L416.0 87.9L417.1 86.4L418.0 85.0L418.8 83.8L419.5 82.6L420.2 81.4L420.9 80.2L421.5 78.8L422.3 76.8L423.0 74.6L423.7 72.3L424.3 70.1L425.0 68.0L425.5 66.5L426.0 65.0L426.5 63.5L427.0 62.2L427.7 61.0L428.4 59.9L429.3 58.9L430.2 57.9L431.1 57.2L432.0 57.0L432.8 57.2L433.7 57.9L434.5 58.8L435.3 59.9L436.0 61.0L436.8 63.0L437.5 65.4L438.0 68.0L438.5 70.8L439.0 73.6L439.7 77.0L440.4 80.6L441.1 84.3L441.7 88.1L442.3 92.0L442.8 96.8L443.3 101.8L443.6 107.0L444.0 112.1L444.4 117.0L444.8 121.2L445.2 125.2L445.6 129.1L446.0 133.3L446.4 138.0L447.0 145.9L447.5 154.8L448.0 164.2L448.5 173.4L449.0 182.0L449.3 188.7L449.7 195.3L450.0 201.7L450.3 207.6L450.6 213.0L450.8 216.8L451.1 220.8L451.3 224.4L451.6 227.0L452.0 228.0L452.3 227.8L452.6 227.1L452.9 226.2L453.2 225.1L453.5 224.0L453.9 222.1L454.2 219.9L454.5 217.4L454.7 214.7L455.0 212.0L455.4 208.1L455.8 203.8L456.2 199.4L456.6 194.7L457.0 190.0L457.4 184.3L457.8 178.3L458.1 172.2L458.5 166.1L459.0 160.0L459.5 153.9L460.1 147.7L460.7 141.6L461.3 135.6L462.0 130.0L462.5 125.7L463.1 121.4L463.6 117.4L464.2 113.6L465.0 110.0L465.7 107.3L466.3 104.7L467.1 102.2L468.0 100.0L469.0 98.0L469.9 96.7L470.8 95.6L471.9 94.6L472.9 93.8L474.0 93.0L474.9 92.4L475.9 91.8L476.9 91.3L477.9 91.0L479.0 91.0L480.7 91.5L482.4 92.6L484.3 94.0L486.2 95.5L488.0 97.0L490.0 98.6L492.0 100.4L494.0 102.2L496.0 104.1L498.0 106.0L500.0 108.2L502.1 110.7L504.0 113.1L506.0 115.3L508.0 117.0L509.4 117.9L510.8 118.6L512.2 119.2L513.6 119.7L515.0 120.0L516.4 120.1L517.7 120.0L519.1 119.9L520.5 119.8L522.0 120.0L524.0 120.5L526.2 121.2L528.3 122.2L530.3 123.4L532.0 125.0L533.6 127.7L534.7 131.0L535.5 134.8L536.2 138.5L537.0 142.0L537.7 144.7L538.3 147.3L538.9 149.8L539.5 152.4L540.0 155.0L540.5 157.7L540.9 160.3L541.2 163.1L541.6 165.9L542.0 169.0L542.6 173.8L543.2 179.2L543.8 184.7L544.4 190.1L545.0 195.0L545.4 198.4L545.8 201.6L546.1 204.6L546.5 207.4L547.0 210.0L547.4 211.8L547.8 213.7L548.2 215.4L548.6 216.6L549.0 217.0L549.5 216.2L549.9 214.2L550.3 211.4L550.7 208.2L551.0 205.0L551.5 199.0L551.8 191.9L552.0 184.2L552.2 176.7L552.5 170.0L552.7 165.5L552.9 161.3L553.1 157.2L553.4 153.2L553.6 149.0L553.9 144.3L554.1 139.4L554.4 134.5L554.7 129.7L555.0 125.0L555.3 120.9L555.6 116.9L556.0 113.0L556.4 109.0L557.0 105.0L557.7 100.6L558.6 96.0L559.5 91.5L560.7 87.1L562.0 83.0L563.3 79.7L564.7 76.4L566.2 73.4L567.9 70.6L570.0 68.0L572.4 65.7L575.1 63.6L578.0 61.8L581.0 60.3L584.0 59.0L586.7 58.2L589.5 57.7L592.3 57.4L595.1 57.2L598.0 57.0L601.1 56.8L604.2 56.7L607.4 56.7L610.4 56.7L613.0 57.0L614.6 57.3L616.1 57.6L617.4 58.0L618.7 58.5L620.0 59.0L621.1 59.5L622.1 60.0L623.1 60.6L624.0 61.2L625.0 62.0L626.2 63.4L627.5 65.2L628.7 66.9L629.8 68.4L631.0 69.0L631.8 68.9L632.7 68.4L633.5 67.6L634.3 66.8L635.0 66.0L635.7 65.2L636.3 64.2L636.8 63.3L637.4 62.2L638.0 61.0L638.9 58.9L639.8 56.3L640.8 53.7L641.8 51.2L643.0 49.0L644.0 47.5L645.1 46.2L646.3 45.0L647.5 43.9L649.0 43.0L651.1 42.0L653.5 41.3L656.1 40.7L658.6 40.2L661.0 40.0L662.9 40.0L664.7 40.1L666.5 40.3L668.2 40.6L670.0 41.0L671.9 41.4L673.8 41.8L675.6 42.4L677.4 43.1L679.0 44.0L680.4 45.3L681.7 46.8L682.8 48.5L683.9 50.3L685.0 52.0L686.1 53.7L687.2 55.5L688.3 57.3L689.2 59.2L690.0 61.0L690.6 62.8L691.0 64.5L691.3 66.3L691.6 68.2L692.0 70.0L692.4 72.0L692.8 73.9L693.1 75.9L693.5 78.0L694.0 80.0L694.5 82.5L695.0 85.3L695.6 88.0L696.2 90.1L697.0 91.0L697.7 90.8L698.5 89.9L699.4 88.7L700.2 87.3L701.0 86.0L701.9 84.3L702.7 82.3L703.5 80.2L704.2 78.1L705.0 76.0L705.7 73.7L706.3 71.3L707.0 68.9L707.9 66.8L709.0 65.0L710.3 63.8L711.9 62.9L713.7 62.2L715.4 61.6L717.0 61.0L718.3 60.5L719.5 59.9L720.7 59.4L721.8 59.1L723.0 59.0L724.0 59.2L725.0 59.5L725.9 60.0L726.9 60.5L728.0 61.0L729.6 61.5L731.4 62.1L733.3 62.6L735.2 63.2L737.0 64.0L738.9 65.1L740.7 66.3L742.5 67.7L744.3 68.9L746.0 70.0L747.4 70.8L748.7 71.5L750.1 72.1L751.5 72.6L753.0 73.0L754.4 73.2" stroke-dasharray="9.13 10.73"/><path d="M754.4 73.2L755.0 73.3L757.2 73.3L759.5 73.2L761.8 73.1L764.0 73.0L765.9 73.1L767.7 73.2L769.5 73.4L771.2 73.3L773.0 73.0L774.1 72.6" stroke-dasharray="9.12 10.73"/><path d="M774.1 72.6L775.0 72.2L777.1 71.0L779.1 69.7L781.1 68.3L783.0 67.0L784.7 66.0L786.2 65.0L787.8 64.0L789.4 63.0L791.0 62.0L792.8 60.8L794.5 59.6L796.3 58.3L798.2 57.1L800.0 56.0L801.8 55.1L803.5 54.4L805.3 53.7L807.1 52.9L809.0 52.0L811.3 50.5L813.7 48.8L816.1 46.9L818.5 45.3L821.0 44.0L823.2 43.2L825.5 42.6L827.7 42.2L829.9 42.0L832.0 42.0L833.7 42.2L835.4 42.6L836.9 43.2L838.5 44.0L840.0 45.0L841.9 46.8L843.7 49.2L845.5 51.8L847.3 54.5L849.0 57.0L850.6 59.3L852.0 61.8L853.5 64.1L855.2 66.0L857.0 67.0L859.2 66.9L861.5 65.9L864.1 64.4L866.6 63.0L869.0 62.0L871.0 61.5L872.9 61.2L874.9 61.0L876.9 61.0L879.0 61.0L882.0 61.2L885.3 61.6L888.6 62.2L891.9 63.0L895.0 64.0L897.7 65.1L900.4 66.4L902.9 67.8L905.4 69.4L908.0 71.0L910.8 72.8L913.7 74.7L916.5 76.7L919.3 78.8L922.0 81.0L924.7 83.2L927.3 85.5L929.9 87.9L932.4 90.4L935.0 93.0L937.8 96.1L938.3 96.7" stroke-dasharray="9.07 10.66"/><path d="M938.3 96.7L940.6 99.4L943.4 102.9L946.2 106.4L949.0 110.0L950.7 112.1" stroke-dasharray="9.09 10.69"/><path d="M950.7 112.1L952.0 113.9L955.0 117.8L958.1 121.8L961.1 125.9L963.1 128.8" stroke-dasharray="9.58 11.26"/><path d="M963.1 128.8L964.0 130.0L966.9 134.2L969.8 138.6L972.7 142.9L974.0 145.0" stroke-dasharray="8.99 10.57"/><path d="M974.0 145.0L975.4 147.1L978.0 151.0L979.9 153.8L981.7 156.3L983.4 158.8L985.2 161.3L985.6 161.9" stroke-dasharray="9.37 11.02"/><path d="M985.6 161.9L987.0 164.0L989.2 167.3L991.5 170.7L993.8 174.2L995.9 177.5" stroke-dasharray="8.64 10.16"/><path d="M995.9 177.5L996.0 177.6L998.0 181.0L999.5 184.0L1000.9 187.2L1002.2 190.3L1003.5 192.9L1005.0 195.0L1005.1 195.1" stroke-dasharray="9.10 10.70"/><path d="M1005.1 195.1L1006.0 196.0L1007.0 196.9L1008.0 197.6L1009.0 198.0L1010.0 198.0L1011.1 197.4L1012.1 196.1L1013.0 194.5L1014.0 192.7L1015.0 191.0L1016.2 189.2L1017.4 187.2L1018.6 185.2L1019.8 183.1L1021.0 181.0L1022.4 178.5L1023.9 176.0L1025.3 173.3L1026.7 170.7L1028.0 168.0L1029.1 165.4L1030.1 162.8L1031.0 160.1L1031.9 157.5L1033.0 155.0L1034.1 152.6L1035.2 150.3L1036.4 148.0L1037.6 145.9L1039.0 144.0L1040.3 142.5L1041.7 141.1L1043.1 139.9L1044.5 138.8L1046.0 138.0L1047.2 137.6L1048.3 137.5L1049.5 137.4L1050.7 137.3L1052.0 137.0L1054.0 136.2L1056.1 135.2L1058.4 134.1L1060.7 132.9L1063.0 132.0L1065.3 131.3L1067.7 130.6L1070.2 130.0L1072.6 129.5L1075.0 129.0L1077.4 128.5L1079.8 128.0L1082.3 127.6L1084.7 127.3L1087.0 127.0L1089.1 126.9L1091.1 126.8L1093.1 126.8L1095.1 126.9L1097.0 127.0L1098.9 127.2L1100.7 127.4L1102.6 127.8L1104.3 128.1L1106.0 128.5L1107.3 128.9L1108.4 129.3L1109.5 129.7L1110.7 130.1L1112.0 130.5L1113.9 131.0L1115.9 131.4L1118.1 131.8L1120.1 132.0L1122.0 132.0L1123.3 131.7L1124.6 131.3L1125.7 130.7L1126.9 130.1L1128.0 129.5L1129.1 128.9L1130.1 128.2L1131.0 127.5L1132.0 126.7L1133.0 126.0" stroke-dasharray="9.1 10.7"/></g>
</g>
<text x="92.8" y="39.8" text-anchor="end" class="ytick">-3</text>
<text x="92.8" y="121.4" text-anchor="end" class="ytick">-13</text>
<text x="92.8" y="203.0" text-anchor="end" class="ytick">-23</text>
<text x="92.8" y="284.6" text-anchor="end" class="ytick">-33</text>
<text x="92.8" y="366.2" text-anchor="end" class="ytick">-43</text>
<text x="92.8" y="447.8" text-anchor="end" class="ytick">-53</text>
<text x="132.5" y="493.5" text-anchor="middle" class="tick">0.65</text>
<text x="391.2" y="493.5" text-anchor="middle" class="tick">5.65</text>
<text x="649.9" y="493.5" text-anchor="middle" class="tick">10.65</text>
<text x="908.6" y="493.5" text-anchor="middle" class="tick">15.65</text>
<text x="633.7" y="519.3" text-anchor="middle" class="title">Frequency (GHz)</text>
<text transform="translate(29.5,229) rotate(-90)" text-anchor="middle" class="title">Reflection coefficient (dB)</text>

<line x1="1143.5" y1="14" x2="1171.7" y2="14" stroke="#000" stroke-width="4.9" stroke-linecap="round"/>
<text x="1175.2" y="25.4" class="leg">Measurement in</text>
<text x="1175.2" y="62.7" class="leg">air</text>
<circle cx="1142.9" cy="147.7" r="2.4"/><circle cx="1153.3" cy="147.7" r="2.4"/><circle cx="1163.5" cy="147.7" r="2.4"/>
<text x="1174.8" y="158.6" class="leg">Simulation in air</text>
<line x1="1144.15" y1="281.5" x2="1171.15" y2="281.5" stroke="#ff0000" stroke-width="4.7" stroke-linecap="round" stroke-dasharray="8.9 10.3 8.9"/>
<text x="1175.2" y="291" class="leg">Measurement in</text>
<text x="1175.2" y="329" class="leg">High-density</text>
<text x="1175.2" y="366.5" class="leg">wood</text>
<line x1="1143.85" y1="414.6" x2="1158.15" y2="414.6" stroke="#4472c4" stroke-width="4.7" stroke-linecap="round"/>
<text x="1175.2" y="425.7" class="leg">Measurement in</text>
<text x="1175.2" y="463.9" class="leg">Plywood</text>

</svg>
</body></html>
